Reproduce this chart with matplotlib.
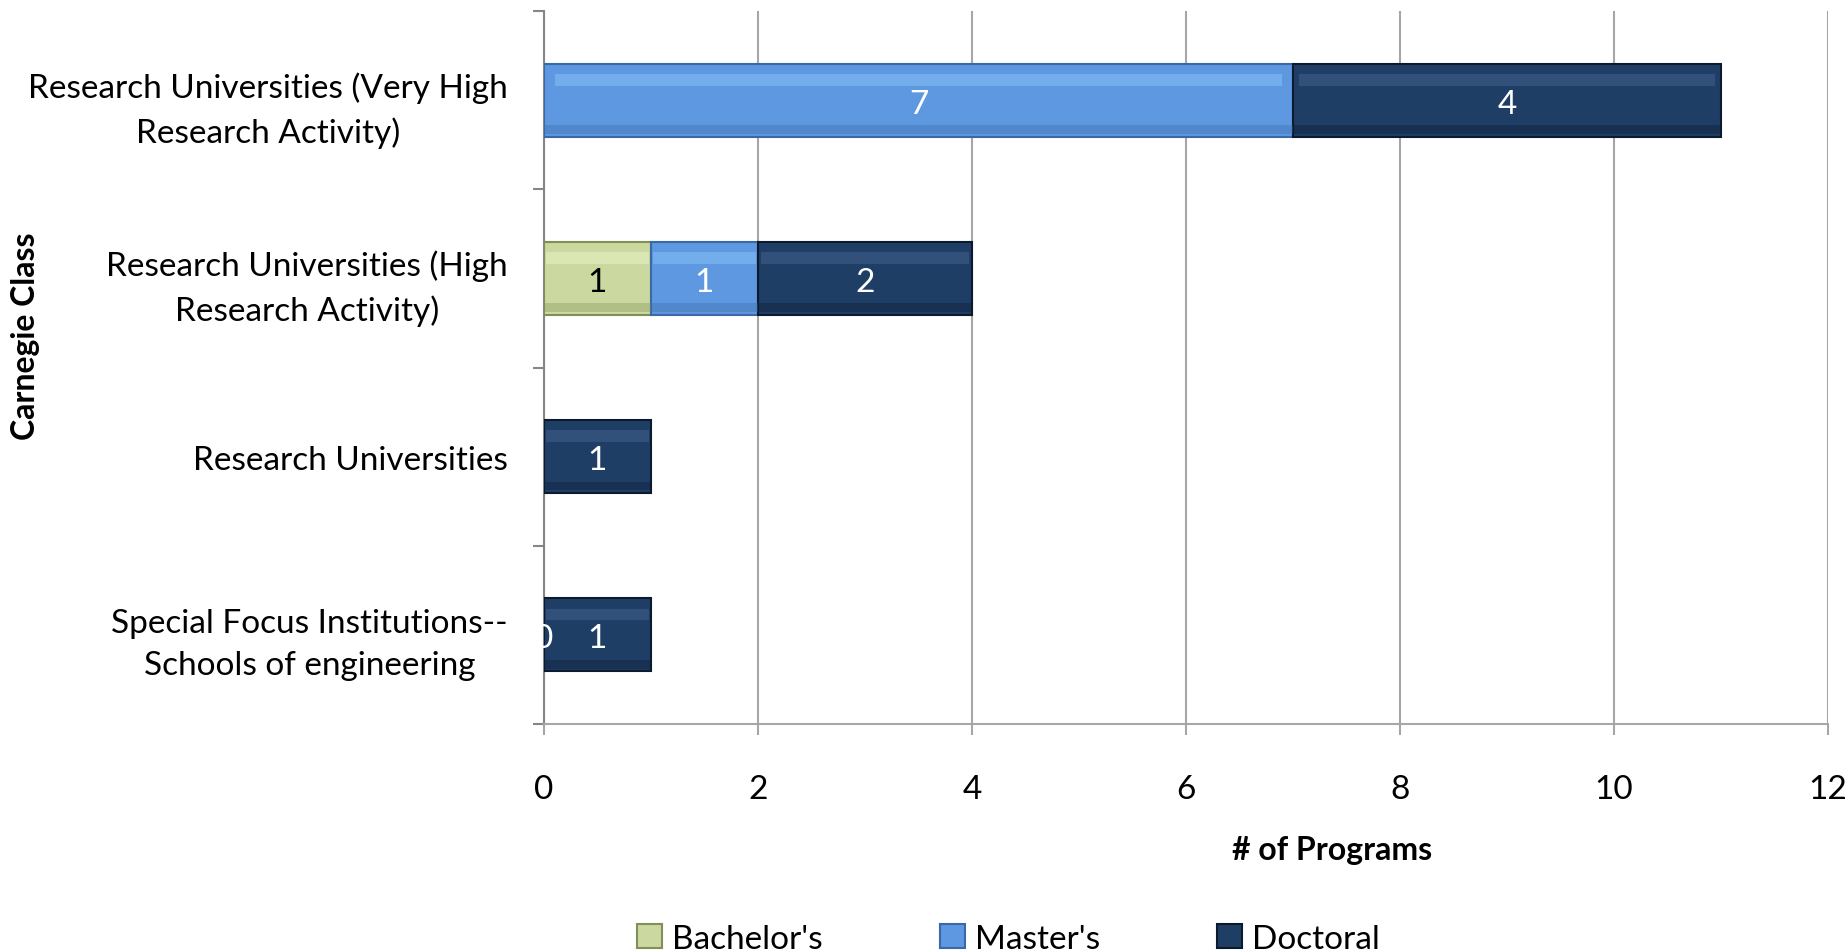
import numpy as np
import matplotlib
matplotlib.use("Agg")
import matplotlib.pyplot as plt

plt.rcParams['font.family'] = ['Lato', 'DejaVu Sans']

categories = ["Research Universities (Very High\nResearch Activity)",
              "Research Universities (High\nResearch Activity)",
              "Research Universities",
              "Special Focus Institutions--\nSchools of engineering"]
bachelors = [np.nan, 1, np.nan, np.nan]
masters = [7, 1, np.nan, 0]
doctoral = [4, 2, 1, 1]
series_names = ["Bachelor's", "Master's", "Doctoral"]
x_ticks = [0, 2, 4, 6, 8, 10, 12]

# colours: face, top highlight, edge, label colour
styles = [("#cbd9a0", "#e6efc4", "#7f8f55", "black"),
          ("#5e98e0", "#82bcf5", "#3b68a6", "white"),
          ("#1f3e66", "#3f5f88", "#0c1a2e", "white")]

fig = plt.figure(figsize=(18.47, 9.53), dpi=100)
ax = fig.add_axes([0.2945, 0.2392, 0.6952, 0.7482])

y = np.arange(len(categories))
h = 0.41
left = np.zeros(len(categories))
handles = []
for vals, name, (fc, hl, ec, tc) in zip([bachelors, masters, doctoral], series_names, styles):
    v = np.nan_to_num(np.array(vals, dtype=float))
    bars = ax.barh(y, v, height=h, left=left, color=fc, edgecolor=ec,
                   linewidth=1.5, zorder=3, label=name)
    # soft bevel: lighter band near the top, darker band at the bottom
    ax.barh(y - h * 0.28, v * 0.97, height=h * 0.16, left=left + v * 0.015,
            color=hl, linewidth=0, zorder=4, alpha=0.6)
    ax.barh(y + h * 0.40, v, height=h * 0.12, left=left,
            color=ec, linewidth=0, zorder=4, alpha=0.35)
    handles.append(bars)
    for yi, raw, l in zip(y, vals, left):
        if not np.isnan(raw):
            ax.text(l + raw / 2, yi + 0.02, f"{int(raw)}", ha='center', va='center',
                    color=tc, fontsize=24, zorder=6)
    left = left + v

ax.set_xlim(0, 12)
ax.set_ylim(3.5, -0.5)
ax.set_xticks(x_ticks)
ax.set_xticklabels([str(t) for t in x_ticks], fontsize=24)
ax.set_yticks(y)
ax.set_yticklabels(categories, fontsize=24, multialignment='center', linespacing=1.5)
ax.set_yticks(np.arange(-0.5, 4.0, 1.0), minor=True)
ax.tick_params(axis='y', which='major', length=0, pad=26)
ax.tick_params(axis='y', which='minor', length=8, width=1.5, color='#868686')
ax.tick_params(axis='x', length=8, width=1.5, color='#a6a6a6', pad=28)

ax.grid(axis='x', color='#a6a6a6', linewidth=1.5, zorder=0)
for s in ['top', 'right']:
    ax.spines[s].set_visible(False)
ax.spines['left'].set_color('#868686')
ax.spines['left'].set_linewidth(1.5)
ax.spines['bottom'].set_color('#a6a6a6')
ax.spines['bottom'].set_linewidth(1.5)
ax.set_axisbelow(True)

fig.text(0.721, 0.108, "# of Programs", ha='center', va='center',
         fontsize=23, fontweight='bold')
fig.text(0.014, 0.647, "Carnegie Class", ha='center', va='center',
         rotation=90, fontsize=23, fontweight='bold')

fig.legend(handles=handles, labels=series_names, loc='center',
           bbox_to_anchor=(0.546, 0.014), ncol=3, frameon=False, fontsize=24,
           handlelength=0.75, handleheight=0.75, handletextpad=0.3,
           columnspacing=3.5)

fig.savefig("out.png", dpi=100)
